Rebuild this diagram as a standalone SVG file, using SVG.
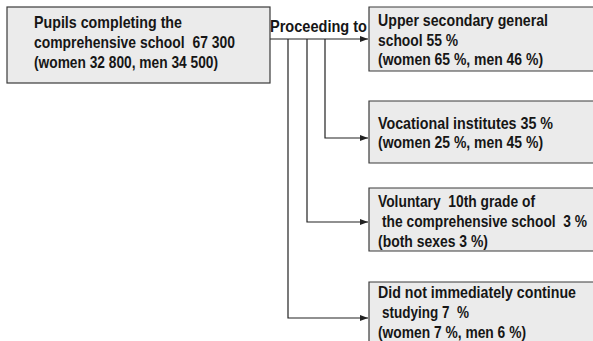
<svg xmlns="http://www.w3.org/2000/svg" width="593" height="341" viewBox="0 0 593 341">
<style>
.box{fill:#ebebeb;stroke:#3a3a3a;stroke-width:1.2}
.fill{fill:#ebebeb;stroke:none}
.edge{fill:none;stroke:#3a3a3a;stroke-width:1.2}
.t{font-family:"Liberation Sans",Arial,sans-serif;font-weight:bold;font-size:16.5px;fill:#161616}
.c{fill:none;stroke:#222;stroke-width:1.2}
</style>
<defs>
<marker id="ah" markerWidth="8" markerHeight="6" refX="8" refY="3" orient="auto" markerUnits="userSpaceOnUse">
<path d="M0,0 L8,3 L0,6 z" fill="#222"/>
</marker>
</defs>
<rect width="593" height="341" fill="#ffffff"/>
<g id="connectors">
<path class="c" d="M270,39 H368" marker-end="url(#ah)"/>
<path class="c" d="M325,39 V138 H368" marker-end="url(#ah)"/>
<path class="c" d="M307,39 V222 H368" marker-end="url(#ah)"/>
<path class="c" d="M288,39 V318 H368" marker-end="url(#ah)"/>
</g>
<g id="label-proceeding">
<text class="t" transform="translate(270,32) scale(0.86,1)" textLength="112.8" lengthAdjust="spacingAndGlyphs">Proceeding to</text>
</g>
<g id="node-pupils">
<rect class="box" x="7" y="7" width="263" height="76"/>
<text class="t" transform="translate(34,28) scale(0.86,1)" textLength="172.1" lengthAdjust="spacingAndGlyphs">Pupils completing the</text>
<text class="t" transform="translate(34,48) scale(0.86,1)" textLength="233.7" lengthAdjust="spacingAndGlyphs" xml:space="preserve">comprehensive school  67 300</text>
<text class="t" transform="translate(34,68) scale(0.86,1)" textLength="214" lengthAdjust="spacingAndGlyphs">(women 32 800, men 34 500)</text>
</g>
<g id="node-upper">
<rect class="fill" x="369" y="7" width="224" height="64"/>
<path class="edge" d="M593,7 H369 V71 H593"/>
<text class="t" transform="translate(378,26) scale(0.86,1)" textLength="197.7" lengthAdjust="spacingAndGlyphs">Upper secondary general</text>
<text class="t" transform="translate(378,46) scale(0.86,1)" textLength="93" lengthAdjust="spacingAndGlyphs">school 55 %</text>
<text class="t" transform="translate(378,65) scale(0.86,1)" textLength="191.9" lengthAdjust="spacingAndGlyphs">(women 65 %, men 46 %)</text>
</g>
<g id="node-vocational">
<rect class="fill" x="369" y="101" width="224" height="62"/>
<path class="edge" d="M593,101 H369 V163 H593"/>
<text class="t" transform="translate(378,129) scale(0.86,1)" textLength="203.5" lengthAdjust="spacingAndGlyphs">Vocational institutes 35 %</text>
<text class="t" transform="translate(378,148) scale(0.86,1)" textLength="191.9" lengthAdjust="spacingAndGlyphs">(women 25 %, men 45 %)</text>
</g>
<g id="node-voluntary">
<rect class="fill" x="369" y="188" width="224" height="63"/>
<path class="edge" d="M593,188 H369 V251 H593"/>
<text class="t" transform="translate(378,207) scale(0.86,1)" textLength="182.6" lengthAdjust="spacingAndGlyphs" xml:space="preserve">Voluntary  10th grade of</text>
<text class="t" transform="translate(382,227) scale(0.86,1)" textLength="238.4" lengthAdjust="spacingAndGlyphs" xml:space="preserve">the comprehensive school  3 %</text>
<text class="t" transform="translate(378,247) scale(0.86,1)" textLength="127.9" lengthAdjust="spacingAndGlyphs">(both sexes 3 %)</text>
</g>
<g id="node-notcontinue">
<rect class="fill" x="369" y="282" width="224" height="59"/>
<path class="edge" d="M593,282 H369 V341"/>
<text class="t" transform="translate(378,298) scale(0.86,1)" textLength="230.2" lengthAdjust="spacingAndGlyphs">Did not immediately continue</text>
<text class="t" transform="translate(382,318) scale(0.86,1)" textLength="101.2" lengthAdjust="spacingAndGlyphs" xml:space="preserve">studying 7  %</text>
<text class="t" transform="translate(378,338) scale(0.86,1)" textLength="172.1" lengthAdjust="spacingAndGlyphs">(women 7 %, men 6 %)</text>
</g>
</svg>
